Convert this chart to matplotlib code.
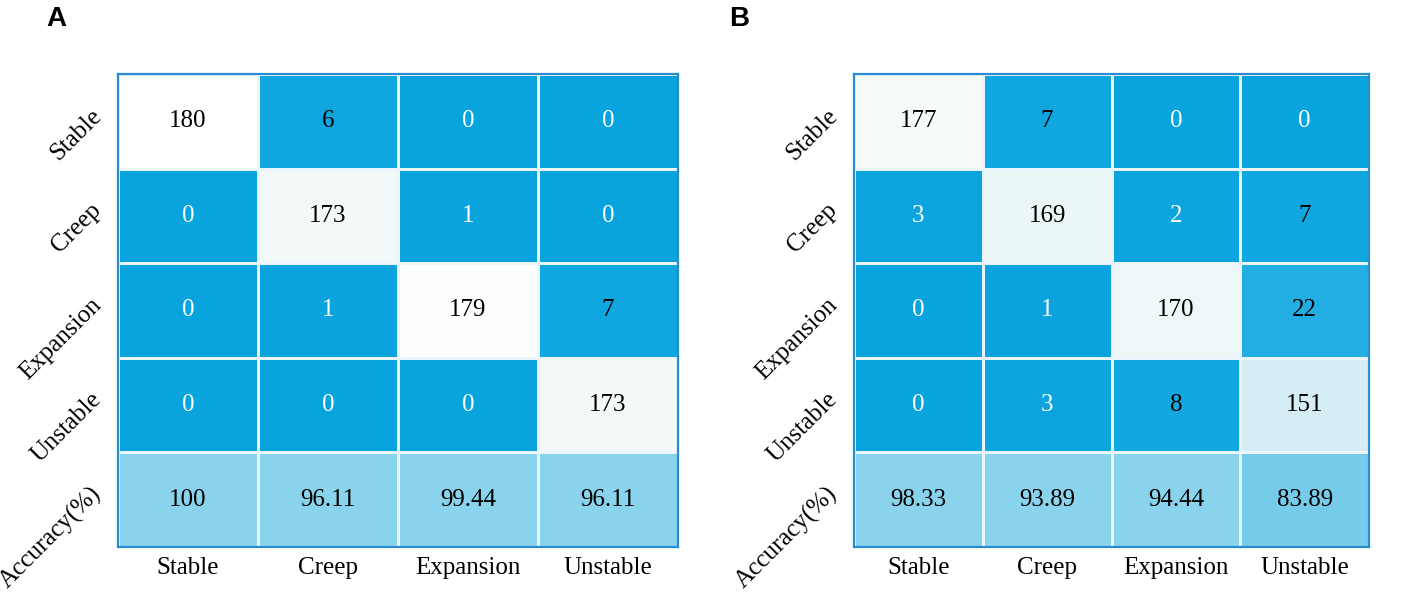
import numpy as np
import matplotlib
matplotlib.use("Agg")
import matplotlib.pyplot as plt
from matplotlib.colors import LinearSegmentedColormap, Normalize
from matplotlib.transforms import ScaledTranslation

classes = ["Stable", "Creep", "Expansion", "Unstable"]
row_labels = ["Stable", "Creep", "Expansion", "Unstable", "Accuracy(%)"]

counts_A = [[180, 6, 0, 0],
            [0, 173, 1, 0],
            [0, 1, 179, 7],
            [0, 0, 0, 173]]
acc_A = [100, 96.11, 99.44, 96.11]
acc_A_text = ["100", "96.11", "99.44", "96.11"]

counts_B = [[177, 7, 0, 0],
            [3, 169, 2, 7],
            [0, 1, 170, 22],
            [0, 3, 8, 151]]
acc_B = [98.33, 93.89, 94.44, 83.89]
acc_B_text = ["98.33", "93.89", "94.44", "83.89"]

cnt_nodes = [(0.0, "#09A3DE"), (22/180, "#22AEE2"), (151/180, "#D5EEF5"),
             (169/180, "#EAF6F7"), (173/180, "#F3F9F8"), (177/180, "#F5FAF9"),
             (1.0, "#FFFFFF")]
cnt_cmap = LinearSegmentedColormap.from_list("cnt", cnt_nodes)
cnt_norm = Normalize(0, 180)
acc_cmap = LinearSegmentedColormap.from_list("acc", ["#76CBEA", "#8AD3ED"])
acc_norm = Normalize(83.5, 94, clip=True)

plt.rcParams["font.family"] = ["Liberation Serif", "DejaVu Serif"]

fig = plt.figure(figsize=(14.17, 5.92), dpi=100)
H = 592
W = 1417
axA = fig.add_axes([118 / W, 45 / H, 560 / W, 473 / H])
axB = fig.add_axes([854 / W, 45 / H, 515 / W, 473 / H])


def draw(ax, counts, acc, acc_text):
    counts = np.array(counts, dtype=float)
    acc = np.array(acc, dtype=float)
    full = np.vstack([counts, acc[None, :]])
    nr, nc = full.shape
    xe = np.arange(nc + 1)
    ye = np.arange(nr + 1)
    cnt_mask = np.zeros_like(full, dtype=bool)
    cnt_mask[-1, :] = True
    acc_mask = ~cnt_mask
    ax.pcolormesh(xe, ye, np.ma.masked_array(full, cnt_mask), cmap=cnt_cmap,
                  norm=cnt_norm, edgecolors="#EAF6FB", linewidth=0.8)
    ax.pcolormesh(xe, ye, np.ma.masked_array(full, acc_mask), cmap=acc_cmap,
                  norm=acc_norm, edgecolors="#EAF6FB", linewidth=0.8)
    ax.set_xlim(0, nc)
    ax.set_ylim(nr, 0)
    for i in range(nr - 1):
        for j in range(nc):
            v = int(counts[i, j])
            col = "white" if v < 5 else "black"
            ax.text(j + 0.5, i + 0.5, str(v), ha="center", va="center",
                    fontsize=18, color=col)
    for j in range(nc):
        ax.text(j + 0.5, nr - 0.5, acc_text[j], ha="center", va="center",
                fontsize=18, color="black")
    ax.set_xticks(np.arange(nc) + 0.5)
    ax.set_xticklabels(classes, fontsize=18)
    ax.set_yticks(np.arange(nr) + 0.5)
    ax.set_yticklabels(row_labels, fontsize=18, rotation=45, ha="right",
                       va="center", rotation_mode="anchor")
    ax.tick_params(axis="both", length=0)
    ax.tick_params(axis="x", pad=7)
    ax.tick_params(axis="y", pad=14.5)
    off = ScaledTranslation(0, 9 / 100, fig.dpi_scale_trans)
    for lab in ax.get_yticklabels():
        lab.set_transform(lab.get_transform() + off)
    for s in ax.spines.values():
        s.set_color("#2A8BD0")
        s.set_linewidth(1.6)


draw(axA, counts_A, acc_A, acc_A_text)
draw(axB, counts_B, acc_B, acc_B_text)

fig.text(46 / W, 1 - 6 / H, "A", fontsize=20, fontweight="bold",
         family=["Liberation Sans", "DejaVu Sans"], ha="left", va="top")
fig.text(729 / W, 1 - 6 / H, "B", fontsize=20, fontweight="bold",
         family=["Liberation Sans", "DejaVu Sans"], ha="left", va="top")

fig.savefig("out.png", dpi=100)
